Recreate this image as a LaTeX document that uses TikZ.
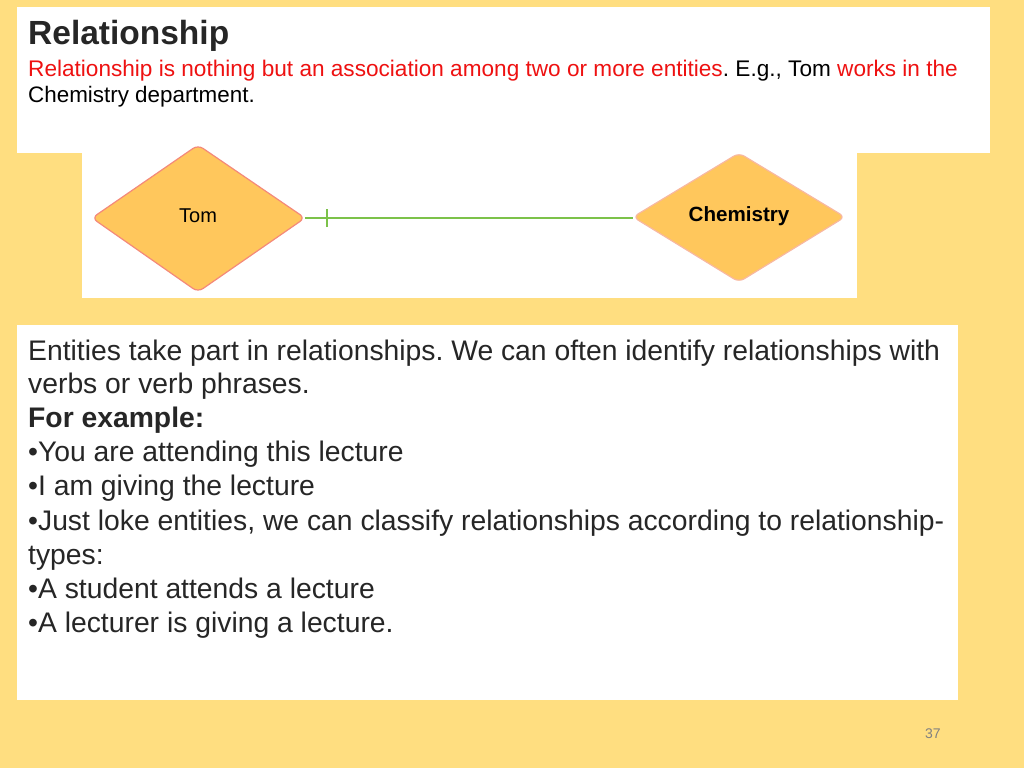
\documentclass[tikz,border=0pt]{standalone}
\usepackage{fontspec}
\setmainfont{Liberation Sans}
\frenchspacing
\definecolor{bg}{HTML}{FFDE80}
\definecolor{dfill}{HTML}{FFC75C}
\definecolor{dline}{HTML}{F4897A}
\definecolor{dline2}{HTML}{F8B8A0}
\definecolor{conn}{HTML}{7CC24A}
\definecolor{red1}{HTML}{EE1111}
\begin{document}
\begin{tikzpicture}[x=1pt,y=-1pt,
  panel/.style={fill=white,draw=none},
  txt/.style={anchor=base west,inner sep=0pt,text=black},
  body/.style={txt,font=\fontsize{28.3}{32}\selectfont,text=black!85},
  ent/.style={fill=dfill,line width=1.2pt,rounded corners=6pt}]
\useasboundingbox (0,0) rectangle (1024,768);
\fill[bg] (0,0) rectangle (1024,768);
\fill[panel] (17,7) rectangle (990,153);
\fill[panel] (82,153) rectangle (857,298);
\fill[panel] (17,325) rectangle (958,700);
\node[txt,font=\fontsize{33.5}{36}\selectfont\bfseries,text=black!85] (title) at (28,45) {Relationship};
\node[txt,font=\fontsize{22.6}{24}\selectfont] (l1) at (28,76) {\textcolor{red1}{Relationship is nothing but an association among two or more entities}. E.g., Tom \textcolor{red1}{works in the}};
\node[txt,font=\fontsize{22.4}{22}\selectfont] (l2) at (28,102) {Chemistry department.};
\draw[ent,draw=dline] (92,218) -- (198,145) -- (305,218) -- (198,292) -- cycle;
\draw[ent,draw=dline2] (633,217) -- (739,153) -- (845,217) -- (739,282) -- cycle;
\node[font=\fontsize{20}{22}\selectfont] (tom) at (198,216) {Tom};
\node[font=\fontsize{20.6}{22}\selectfont\bfseries] (chem) at (739,216) {Chemistry};
\coordinate (a) at (305,218);
\coordinate (b) at (633,218);
\coordinate (t) at (327,218);
\draw[conn,line width=1.8pt] (a) -- (b);
\draw[conn,line width=1.8pt] ([yshift=-9]t) -- ([yshift=9]t);
\node[body] (b1) at (28,360) {Entities take part in relationships. We can often identify relationships with};
\node[body] (b2) at (28,393) {verbs or verb phrases.};
\node[body,font=\fontsize{28.3}{32}\selectfont\bfseries] (b3) at (28,427) {For example:};
\node[body] (b4) at (28,461) {•You are attending this lecture};
\node[body] (b5) at (28,495) {•I am giving the lecture};
\node[body] (b6) at (28,530) {•Just loke entities, we can classify relationships according to relationship-};
\node[body] (b7) at (28,564) {types:};
\node[body] (b8) at (28,598) {•A student attends a lecture};
\node[body] (b9) at (28,632) {•A lecturer is giving a lecture.};
\node[txt,font=\fontsize{14}{16}\selectfont,text=gray] (pg) at (925,738) {37};
\end{tikzpicture}
\end{document}
